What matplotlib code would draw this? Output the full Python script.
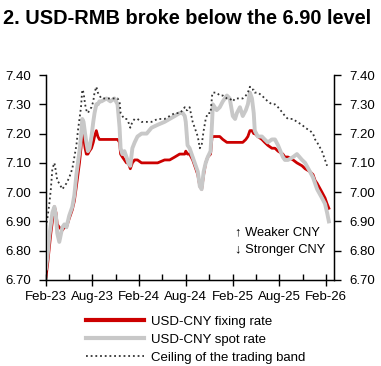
import numpy as np
import pandas as pd
import matplotlib
matplotlib.use("Agg")
import matplotlib.pyplot as plt
import matplotlib.dates as mdates

plt.rcParams['font.family'] = ['Liberation Sans', 'DejaVu Sans']

dates = pd.to_datetime([
    '2023-02-01', '2023-02-08', '2023-02-14', '2023-02-20', '2023-02-26', '2023-03-06',
    '2023-03-12', '2023-03-17', '2023-03-25', '2023-04-06', '2023-04-14', '2023-04-22',
    '2023-05-03', '2023-05-15', '2023-05-23', '2023-05-31', '2023-06-06', '2023-06-12',
    '2023-06-18', '2023-06-23', '2023-06-28', '2023-07-04', '2023-07-09', '2023-07-15',
    '2023-07-21', '2023-07-29', '2023-08-05', '2023-08-10', '2023-08-17', '2023-08-23',
    '2023-08-29', '2023-09-06', '2023-09-26', '2023-10-11', '2023-10-27', '2023-11-08',
    '2023-11-16', '2023-11-20', '2023-11-27', '2023-12-05', '2023-12-13', '2023-12-20',
    '2023-12-28', '2024-01-05', '2024-01-14', '2024-01-25', '2024-02-10', '2024-03-01',
    '2024-03-20', '2024-04-13', '2024-05-10', '2024-05-30', '2024-06-19', '2024-07-08',
    '2024-07-20', '2024-07-28', '2024-08-01', '2024-08-08', '2024-08-16', '2024-08-28',
    '2024-09-05', '2024-09-17', '2024-09-25', '2024-10-02', '2024-10-10', '2024-10-18',
    '2024-10-26', '2024-11-06', '2024-11-12', '2024-11-15', '2024-11-30', '2024-12-12',
    '2024-12-24', '2025-01-09', '2025-01-20', '2025-02-01', '2025-02-10', '2025-02-17',
    '2025-03-01', '2025-03-12', '2025-03-24', '2025-04-01', '2025-04-09', '2025-04-17',
    '2025-04-24', '2025-04-28', '2025-05-10', '2025-05-26', '2025-06-06', '2025-06-18',
    '2025-07-04', '2025-07-16', '2025-07-28', '2025-08-16', '2025-08-24', '2025-09-05',
    '2025-09-25', '2025-10-10', '2025-10-30', '2025-11-11', '2025-11-30', '2025-12-12',
    '2025-12-20', '2025-12-28', '2026-01-16', '2026-01-28', '2026-02-05', '2026-02-12',
])

fixing = [
    6.71, 6.76, 6.81, 6.86, 6.90, 6.95,
    6.93, 6.89, 6.88, 6.87, 6.88, 6.88,
    6.91, 6.94, 6.97, 7.02, 7.06, 7.10,
    7.15, 7.20, 7.19, 7.15, 7.13, 7.13,
    7.14, 7.15, 7.17, 7.19, 7.21, 7.19,
    7.18, 7.18, 7.18, 7.18, 7.18, 7.18,
    7.17, 7.13, 7.12, 7.11, 7.10, 7.10,
    7.08, 7.10, 7.11, 7.11, 7.10, 7.10,
    7.10, 7.10, 7.11, 7.11, 7.12, 7.13,
    7.13, 7.13, 7.14, 7.13, 7.13, 7.11,
    7.09, 7.06, 7.02, 7.01, 7.06, 7.10,
    7.12, 7.13, 7.19, 7.19, 7.19, 7.19,
    7.18, 7.17, 7.17, 7.17, 7.17, 7.17,
    7.17, 7.17, 7.18, 7.19, 7.21, 7.21,
    7.20, 7.20, 7.19, 7.18, 7.17, 7.16,
    7.15, 7.15, 7.14, 7.13, 7.12, 7.12,
    7.11, 7.10, 7.09, 7.08, 7.07, 7.06,
    7.04, 7.03, 7.00, 6.98, 6.96, 6.945,
]

spot = [
    6.74, 6.79, 6.85, 6.89, 6.93, 6.95,
    6.92, 6.86, 6.83, 6.88, 6.89, 6.88,
    6.92, 6.95, 6.99, 7.06, 7.10, 7.14,
    7.19, 7.25, 7.24, 7.20, 7.17, 7.14,
    7.15, 7.19, 7.24, 7.27, 7.30, 7.30,
    7.31, 7.31, 7.32, 7.31, 7.32, 7.30,
    7.22, 7.15, 7.13, 7.14, 7.12, 7.10,
    7.09, 7.15, 7.17, 7.19, 7.20, 7.20,
    7.22, 7.23, 7.24, 7.25, 7.26, 7.27,
    7.27, 7.26, 7.24, 7.16, 7.15, 7.12,
    7.10, 7.07, 7.02, 7.01, 7.07, 7.10,
    7.12, 7.14, 7.24, 7.30, 7.28, 7.29,
    7.31, 7.33, 7.32, 7.26, 7.25, 7.27,
    7.29, 7.26, 7.28, 7.30, 7.34, 7.32,
    7.27, 7.21, 7.19, 7.19, 7.18, 7.17,
    7.18, 7.18, 7.16, 7.12, 7.11, 7.11,
    7.12, 7.13, 7.11, 7.10, 7.07, 7.05,
    7.03, 7.01, 6.98, 6.96, 6.93, 6.90,
]

ceiling = [
    6.88, 6.92, 6.96, 7.01, 7.08, 7.10,
    7.07, 7.04, 7.03, 7.01, 7.02, 7.03,
    7.05, 7.08, 7.12, 7.16, 7.21, 7.25,
    7.29, 7.35, 7.34, 7.30, 7.28, 7.27,
    7.28, 7.29, 7.31, 7.34, 7.36, 7.34,
    7.33, 7.32, 7.32, 7.32, 7.32, 7.32,
    7.31, 7.27, 7.26, 7.25, 7.25, 7.24,
    7.22, 7.24, 7.25, 7.25, 7.24, 7.24,
    7.24, 7.25, 7.25, 7.26, 7.27, 7.27,
    7.28, 7.29, 7.28, 7.28, 7.29, 7.24,
    7.22, 7.19, 7.15, 7.16, 7.21, 7.25,
    7.27, 7.27, 7.33, 7.34, 7.34, 7.33,
    7.33, 7.32, 7.32, 7.31, 7.32, 7.32,
    7.32, 7.32, 7.33, 7.34, 7.36, 7.35,
    7.35, 7.34, 7.34, 7.33, 7.32, 7.31,
    7.30, 7.30, 7.29, 7.27, 7.26, 7.25,
    7.25, 7.24, 7.23, 7.22, 7.21, 7.20,
    7.18, 7.17, 7.14, 7.11, 7.09, np.nan,
]

yticks = [6.70, 6.80, 6.90, 7.00, 7.10, 7.20, 7.30, 7.40]

fig = plt.figure(figsize=(3.81, 3.66), dpi=100)
ax = fig.add_axes([0.1207, 0.235, 0.7559, 0.560])

ax.plot(dates, fixing, color='#cc0000', lw=2.0, zorder=2, label='USD-CNY fixing rate')
ax.plot(dates, spot, color='#c8c8c8', lw=2.8, zorder=3, label='USD-CNY spot rate')
ax.plot(dates, ceiling, color='#333333', lw=1.3, ls=(0, (1, 1.6)), zorder=4,
        label='Ceiling of the trading band')

ax.set_ylim(6.70, 7.40)
ax.set_xlim(pd.Timestamp('2023-02-01'), pd.Timestamp('2026-03-04'))
ax.set_yticks(yticks)
ax.set_yticklabels(['%.2f' % v for v in yticks], fontsize=9.5)

ax.xaxis.set_major_locator(mdates.MonthLocator(bymonth=[2, 8]))
ax.xaxis.set_minor_locator(mdates.MonthLocator(bymonth=[5, 11]))
ax.xaxis.set_major_formatter(mdates.DateFormatter('%b-%y'))
ax.tick_params(axis='x', which='major', direction='inout', length=8, width=1, labelsize=9.5, pad=4)
ax.tick_params(axis='x', which='minor', direction='in', length=4, width=1)
ax.tick_params(axis='y', direction='out', length=5, width=1, pad=6)

ax.spines['top'].set_visible(False)
for s in ['left', 'right', 'bottom']:
    ax.spines[s].set_linewidth(1)

ax2 = ax.twinx()
ax2.set_ylim(6.70, 7.40)
ax2.set_yticks(yticks)
ax2.set_yticklabels(['%.2f' % v for v in yticks], fontsize=9.5)
ax2.tick_params(axis='y', direction='out', length=5, width=1, pad=6)
ax2.spines['top'].set_visible(False)

ax.text(0.617, 0.366, '\u2191 Weaker CNY', transform=fig.transFigure, fontsize=9.3, va='center')
ax.text(0.617, 0.317, '\u2193 Stronger CNY', transform=fig.transFigure, fontsize=9.3, va='center')

fig.text(0.008, 0.9336, '2. USD-RMB broke below the 6.90 level', fontsize=14.4,
         fontweight='bold', va='baseline')

leg = fig.legend(loc='upper left', bbox_to_anchor=(0.226, 0.137), frameon=False,
                 fontsize=9.5, handlelength=4.4, handletextpad=0.5, labelspacing=0.42,
                 borderaxespad=0, borderpad=0)
for h in leg.get_lines():
    if h.get_linestyle() == '-':
        h.set_linewidth(3)

fig.savefig('out.png', dpi=100)
